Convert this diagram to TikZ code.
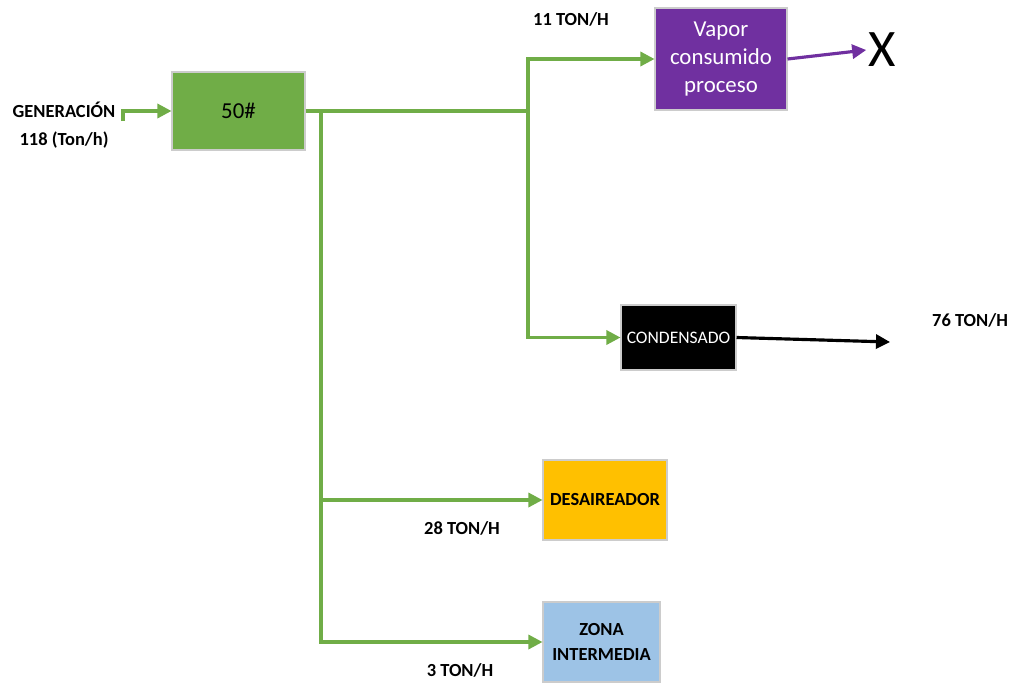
\documentclass[tikz,border=0pt]{standalone}
\usepackage{fontspec}
\setmainfont{Carlito}
\usepackage{xcolor}
\usetikzlibrary{arrows.meta,positioning,calc}

\definecolor{pipegreen}{HTML}{70AD47}
\definecolor{procpurple}{HTML}{7030A0}
\definecolor{desaorange}{HTML}{FFC000}
\definecolor{zonablue}{HTML}{9DC3E6}

\begin{document}
\begin{tikzpicture}[
   x=0.02cm, y=-0.02cm,
   every node/.style={font=\fontsize{10.5}{14}\selectfont},
   blk/.style={draw=black!20,line width=0.6pt,rectangle,align=center,inner sep=2pt},
   lbl/.style={font=\fontsize{10.5}{16}\selectfont\bfseries,align=center,inner sep=1pt},
   pipe/.style={draw=pipegreen,line width=1.8pt},
   flow/.style={pipe,-{Triangle[length=8pt,width=8pt]}},
]
\useasboundingbox (0,0) rectangle (1017,683);

% Boiler
\node[lbl] (gen) at (64,125) {GENERACIÓN\\118 (Ton/h)};
\node[blk,fill=pipegreen,minimum width=2.66cm,minimum height=1.56cm,font=\fontsize{13}{16}\selectfont] (boiler) at (238.5,111) {50\#};
\coordinate (gin) at (123,121);
\draw[flow] (gin) |- (boiler.west);

% Users
\node[blk,fill=procpurple,text=white,minimum width=2.64cm,minimum height=2.04cm,font=\fontsize{13}{16}\selectfont] (vapor) at (721,59) {Vapor\\consumido\\proceso};
\node[blk,fill=black,text=white,minimum width=2.3cm,minimum height=1.3cm,font=\fontsize{10}{14}\selectfont] (cond) at (678.5,337.5) {CONDENSADO};
\node[blk,fill=desaorange,font=\fontsize{10.5}{14}\selectfont\bfseries,minimum width=2.48cm,minimum height=1.6cm] (desa) at (605,500) {DESAIREADOR};
\node[blk,fill=zonablue,font=\fontsize{10.5}{14}\selectfont\bfseries,minimum width=2.34cm,minimum height=1.6cm] (zona) at (601.5,642) {ZONA\\INTERMEDIA};

% Junctions
\coordinate (jA) at (321,111);
\coordinate (jB) at (528,111);
\draw[pipe] (boiler.east) -- (jB);
\draw[flow] (jB) |- (vapor.west);
\draw[flow] (jB) |- (cond.west);
\draw[flow] (jA) |- (zona.west);
\draw[flow] (jA |- desa.west) -- (desa.west);

% Outputs
\node[inner sep=1pt,font=\fontsize{30}{32}\selectfont] (xout) at (882,50) {X};
\draw[draw=procpurple,line width=1.8pt,-{Triangle[length=8pt,width=8pt]}] (vapor.east) -- (xout.west);
\coordinate (condout) at (890,342);
\draw[line width=1.8pt,-{Triangle[length=8pt,width=8pt]}] (cond.east) -- (condout);

% Flow labels
\node[lbl] (l11) at (571,19) {11 TON/H};
\node[lbl] (l76) at (970,320) {76 TON/H};
\node[lbl] (l28) at (462,528) {28 TON/H};
\node[lbl] (l3) at (460,670) {3 TON/H};

\end{tikzpicture}
\end{document}
